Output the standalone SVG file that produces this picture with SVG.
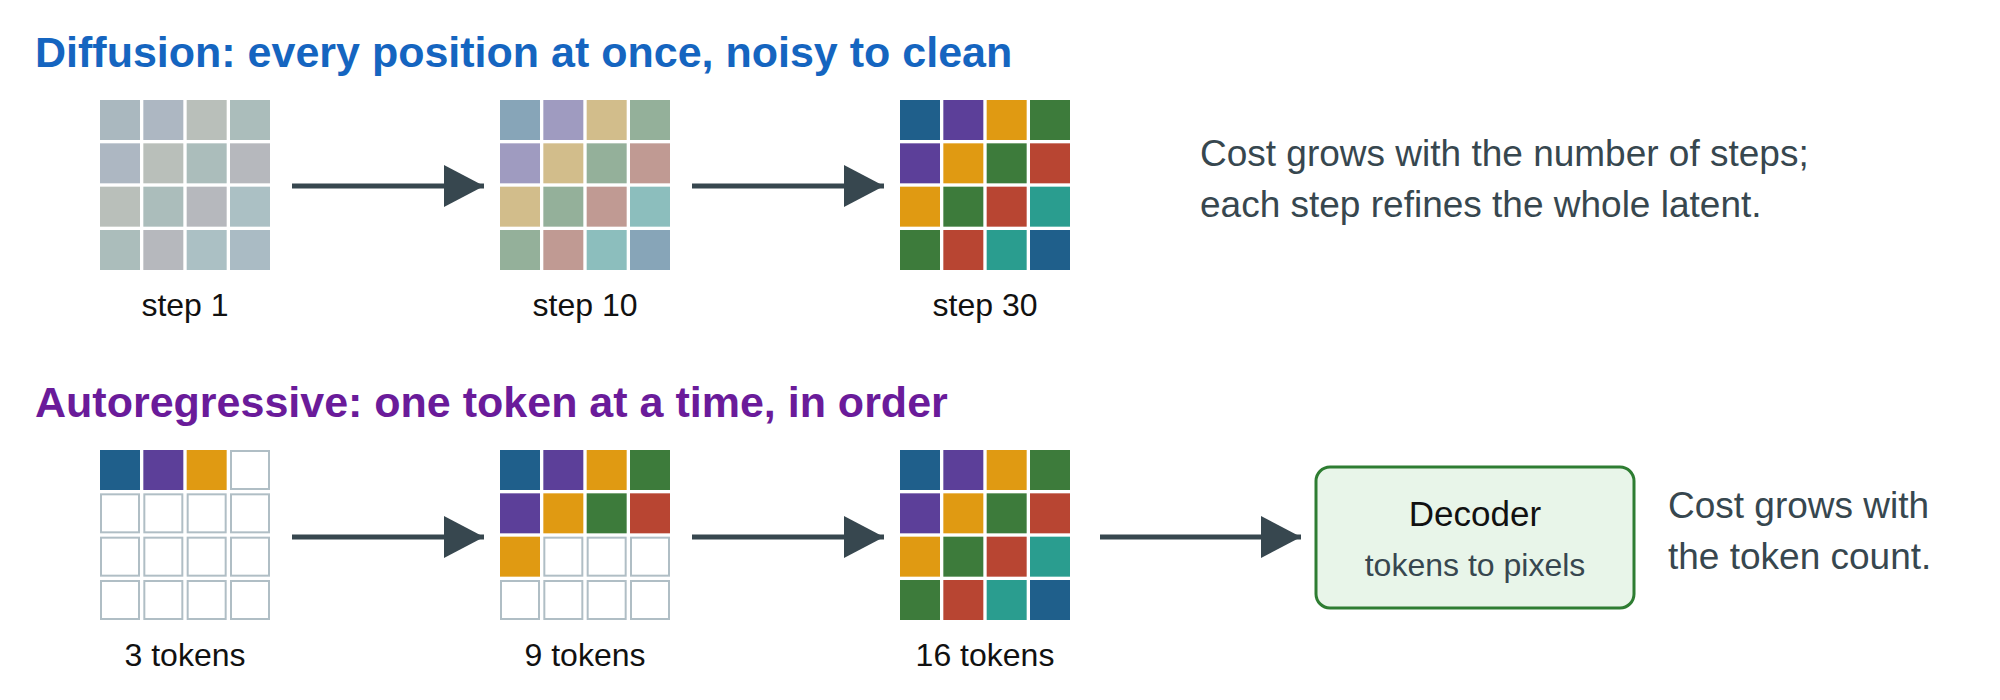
<svg xmlns="http://www.w3.org/2000/svg" width="2000" height="700" viewBox="0 0 2000 700">
<style>
text{font-family:"Liberation Sans",Arial,sans-serif}
.t1{font-size:43px;font-weight:bold;fill:#1565c0}
.t2{font-size:43px;font-weight:bold;fill:#6a1b9a}
.lbl{font-size:32px;fill:#111;text-anchor:middle}
.note{font-size:37px;fill:#37474f}
.e{fill:#fff;stroke:#b0bec5;stroke-width:2}
.B{fill:#1f5f8b}.P{fill:#5c3f99}.O{fill:#e09a12}.G{fill:#3d7b3b}.R{fill:#b84532}.T{fill:#2a9d8f}
.arr{stroke:#37474f;stroke-width:5;fill:none;marker-end:url(#ah)}
</style>
<defs>
<marker id="ah" markerUnits="userSpaceOnUse" markerWidth="42" markerHeight="44" refX="40" refY="21" orient="auto" viewBox="0 0 42 42"><path d="M0,0 L40,21 L0,42 Z" fill="#37474f"/></marker>
<g id="full">
<rect x="0" y="0" width="40" height="40" class="B"/><rect x="43.33" y="0" width="40" height="40" class="P"/><rect x="86.67" y="0" width="40" height="40" class="O"/><rect x="130" y="0" width="40" height="40" class="G"/>
<rect x="0" y="43.33" width="40" height="40" class="P"/><rect x="43.33" y="43.33" width="40" height="40" class="O"/><rect x="86.67" y="43.33" width="40" height="40" class="G"/><rect x="130" y="43.33" width="40" height="40" class="R"/>
<rect x="0" y="86.67" width="40" height="40" class="O"/><rect x="43.33" y="86.67" width="40" height="40" class="G"/><rect x="86.67" y="86.67" width="40" height="40" class="R"/><rect x="130" y="86.67" width="40" height="40" class="T"/>
<rect x="0" y="130" width="40" height="40" class="G"/><rect x="43.33" y="130" width="40" height="40" class="R"/><rect x="86.67" y="130" width="40" height="40" class="T"/><rect x="130" y="130" width="40" height="40" class="B"/>
</g>
</defs>
<rect width="2000" height="700" fill="#fff"/>
<text class="t1" x="35" y="67">Diffusion: every position at once, noisy to clean</text>
<text class="t2" x="35" y="417">Autoregressive: one token at a time, in order</text>

<g id="d-step1" transform="translate(100,100)">
<rect x="0" y="0" width="40" height="40" fill="#aab8bf"/><rect x="43.33" y="0" width="40" height="40" fill="#adb7c2"/><rect x="86.67" y="0" width="40" height="40" fill="#b9bfba"/><rect x="130" y="0" width="40" height="40" fill="#abbdbb"/>
<rect x="0" y="43.33" width="40" height="40" fill="#adb7c2"/><rect x="43.33" y="43.33" width="40" height="40" fill="#b9bfba"/><rect x="86.67" y="43.33" width="40" height="40" fill="#abbdbb"/><rect x="130" y="43.33" width="40" height="40" fill="#b6b8bd"/>
<rect x="0" y="86.67" width="40" height="40" fill="#b9bfba"/><rect x="43.33" y="86.67" width="40" height="40" fill="#abbdbb"/><rect x="86.67" y="86.67" width="40" height="40" fill="#b6b8bd"/><rect x="130" y="86.67" width="40" height="40" fill="#abc0c4"/>
<rect x="0" y="130" width="40" height="40" fill="#abbdbb"/><rect x="43.33" y="130" width="40" height="40" fill="#b6b8bd"/><rect x="86.67" y="130" width="40" height="40" fill="#abc0c4"/><rect x="130" y="130" width="40" height="40" fill="#aabbc4"/>
<text class="lbl" x="85" y="216">step 1</text>
</g>
<g id="d-step10" transform="translate(500,100)">
<rect x="0" y="0" width="40" height="40" fill="#87a5b8"/><rect x="43.33" y="0" width="40" height="40" fill="#9f9bc0"/><rect x="86.67" y="0" width="40" height="40" fill="#d2bd8b"/><rect x="130" y="0" width="40" height="40" fill="#94b09a"/>
<rect x="0" y="43.33" width="40" height="40" fill="#9f9bc0"/><rect x="43.33" y="43.33" width="40" height="40" fill="#d2bd8b"/><rect x="86.67" y="43.33" width="40" height="40" fill="#94b09a"/><rect x="130" y="43.33" width="40" height="40" fill="#c09a93"/>
<rect x="0" y="86.67" width="40" height="40" fill="#d2bd8b"/><rect x="43.33" y="86.67" width="40" height="40" fill="#94b09a"/><rect x="86.67" y="86.67" width="40" height="40" fill="#c09a93"/><rect x="130" y="86.67" width="40" height="40" fill="#8cbebd"/>
<rect x="0" y="130" width="40" height="40" fill="#94b09a"/><rect x="43.33" y="130" width="40" height="40" fill="#c09a93"/><rect x="86.67" y="130" width="40" height="40" fill="#8cbebd"/><rect x="130" y="130" width="40" height="40" fill="#87a5b8"/>
<text class="lbl" x="85" y="216">step 10</text>
</g>
<g id="d-step30" transform="translate(900,100)">
<use href="#full"/>
<text class="lbl" x="85" y="216">step 30</text>
</g>
<g id="d-note">
<text class="note" x="1200" y="166">Cost grows with the number of steps;</text>
<text class="note" x="1200" y="217">each step refines the whole latent.</text>
</g>

<g id="a-3" transform="translate(100,450)">
<rect x="0" y="0" width="40" height="40" class="B"/><rect x="43.33" y="0" width="40" height="40" class="P"/><rect x="86.67" y="0" width="40" height="40" class="O"/><rect x="131" y="1" width="38" height="38" class="e"/>
<rect x="1" y="44.33" width="38" height="38" class="e"/><rect x="44.33" y="44.33" width="38" height="38" class="e"/><rect x="87.67" y="44.33" width="38" height="38" class="e"/><rect x="131" y="44.33" width="38" height="38" class="e"/>
<rect x="1" y="87.67" width="38" height="38" class="e"/><rect x="44.33" y="87.67" width="38" height="38" class="e"/><rect x="87.67" y="87.67" width="38" height="38" class="e"/><rect x="131" y="87.67" width="38" height="38" class="e"/>
<rect x="1" y="131" width="38" height="38" class="e"/><rect x="44.33" y="131" width="38" height="38" class="e"/><rect x="87.67" y="131" width="38" height="38" class="e"/><rect x="131" y="131" width="38" height="38" class="e"/>
<text class="lbl" x="85" y="216">3 tokens</text>
</g>
<g id="a-9" transform="translate(500,450)">
<rect x="0" y="0" width="40" height="40" class="B"/><rect x="43.33" y="0" width="40" height="40" class="P"/><rect x="86.67" y="0" width="40" height="40" class="O"/><rect x="130" y="0" width="40" height="40" class="G"/>
<rect x="0" y="43.33" width="40" height="40" class="P"/><rect x="43.33" y="43.33" width="40" height="40" class="O"/><rect x="86.67" y="43.33" width="40" height="40" class="G"/><rect x="130" y="43.33" width="40" height="40" class="R"/>
<rect x="0" y="86.67" width="40" height="40" class="O"/><rect x="44.33" y="87.67" width="38" height="38" class="e"/><rect x="87.67" y="87.67" width="38" height="38" class="e"/><rect x="131" y="87.67" width="38" height="38" class="e"/>
<rect x="1" y="131" width="38" height="38" class="e"/><rect x="44.33" y="131" width="38" height="38" class="e"/><rect x="87.67" y="131" width="38" height="38" class="e"/><rect x="131" y="131" width="38" height="38" class="e"/>
<text class="lbl" x="85" y="216">9 tokens</text>
</g>
<g id="a-16" transform="translate(900,450)">
<use href="#full"/>
<text class="lbl" x="85" y="216">16 tokens</text>
</g>
<g id="decoder">
<rect x="1316" y="467" width="318" height="141" rx="14" fill="#e8f5e9" stroke="#2e7d32" stroke-width="3"/>
<text x="1475" y="526" font-size="35" fill="#111" text-anchor="middle">Decoder</text>
<text x="1475" y="576" font-size="32" fill="#37474f" text-anchor="middle">tokens to pixels</text>
</g>
<g id="a-note">
<text class="note" x="1668" y="518">Cost grows with</text>
<text class="note" x="1668" y="569">the token count.</text>
</g>

<g id="connectors">
<line class="arr" x1="292" y1="186" x2="484" y2="186"/>
<line class="arr" x1="692" y1="186" x2="884" y2="186"/>
<line class="arr" x1="292" y1="537" x2="484" y2="537"/>
<line class="arr" x1="692" y1="537" x2="884" y2="537"/>
<line class="arr" x1="1100" y1="537" x2="1301" y2="537"/>
</g>
</svg>
